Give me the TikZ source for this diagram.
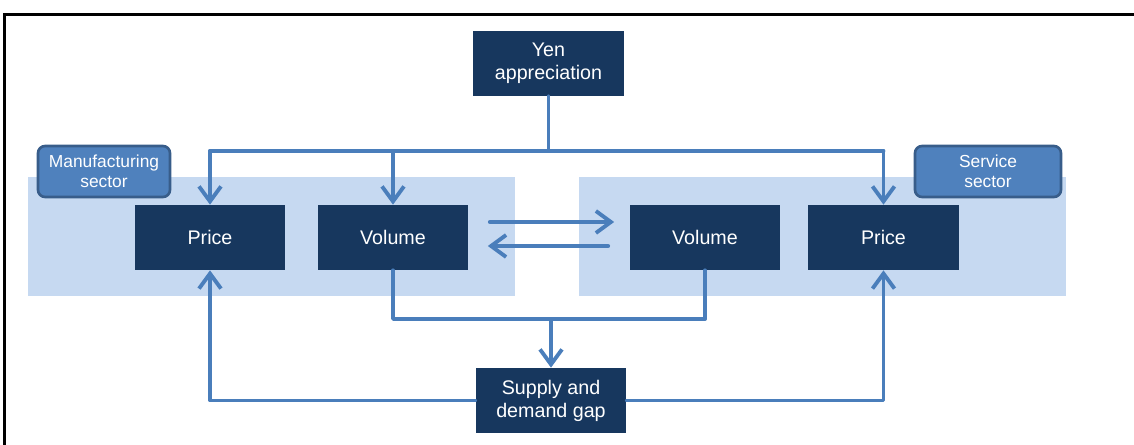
\documentclass[tikz,border=0pt]{standalone}
\usepackage{fontspec}
\setmainfont{Liberation Sans}
\usetikzlibrary{arrows.meta}
\definecolor{darkbox}{HTML}{17375E}
\definecolor{panelfill}{HTML}{C6D9F1}
\definecolor{tabfill}{HTML}{4F81BD}
\definecolor{tabline}{HTML}{385D8A}
\definecolor{connc}{HTML}{4A7EBB}
\begin{document}
\begin{tikzpicture}[x=0.02cm,y=-0.02cm,
  box/.style={fill=darkbox, text=white, minimum width=3.02cm, minimum height=1.3cm, inner sep=0pt, align=center, font=\fontsize{11.2}{13}\selectfont},
  panelbox/.style={fill=panelfill, minimum width=9.74cm, minimum height=2.38cm, inner sep=0pt},
  tabbox/.style={draw=tabline, line width=1.5pt, fill=tabfill, rounded corners=4pt, text=white, align=center, minimum height=1.02cm, inner sep=0pt, font=\fontsize{9.9}{11.5}\selectfont},
  link/.style={draw=connc, line width=2.2pt, line cap=round, line join=round},
  arr/.style={link, -{Straight Barb[length=0.3cm,width=0.44cm]}}]
\useasboundingbox (0,0) rectangle (1134,445);
\clip (0,0) rectangle (1134,445);
% frame
\draw[black, line width=1.5pt] (4.5,450) -- (4.5,14.5) -- (1140,14.5);
% panels
\node[panelbox] (pl) at (271.5,236.5) {};
\node[panelbox] (pr) at (822.5,236.5) {};
% tabs
\node[tabbox, minimum width=2.64cm] (tabl) at (104,171.5) {Manufacturing\\sector};
\node[tabbox, minimum width=2.92cm] (tabr) at (988,171.5) {Service\\sector};
% boxes
\node[box] (yen) at (548.5,63.5) {\raisebox{-2pt}{Yen}\\\raisebox{-2pt}{appreciation}};
\node[box] (pricel) at (210,237.5) {Price};
\node[box] (voll) at (393,237.5) {Volume};
\node[box] (volr) at (705,237.5) {Volume};
\node[box] (pricer) at (883.5,237.5) {Price};
\node[box] (gap) at (551,400.5) {Supply and\\demand gap};
% coordinates
\coordinate (topl) at (0,151);
\coordinate (botl) at (0,319);
\coordinate (jn) at (yen.south |- topl);
% from yen
\draw[link] (yen.south) -- (jn);
\draw[link] (pricel.north |- topl) -- (pricer.north |- topl);
\draw[arr] (pricel.north |- topl) -- (pricel.north);
\draw[arr] (voll.north |- topl) -- (voll.north);
\draw[arr] (pricer.north |- topl) -- (pricer.north);
% between volumes
\draw[arr] ([shift={(21,-15.5)}]voll.east) -- ([shift={(-15,-15.5)}]volr.west);
\draw[arr] ([shift={(-21,8.5)}]volr.west) -- ([shift={(19,8.5)}]voll.east);
% volumes to gap
\draw[link] (voll.south) -- (voll.south |- botl) -- (volr.south |- botl) -- (volr.south);
\draw[arr] (gap.north |- botl) -- (gap.north);
% gap to prices
\draw[arr] (gap.west) -| (pricel.south);
\draw[arr] (gap.east) -| (pricer.south);
\end{tikzpicture}
\end{document}
